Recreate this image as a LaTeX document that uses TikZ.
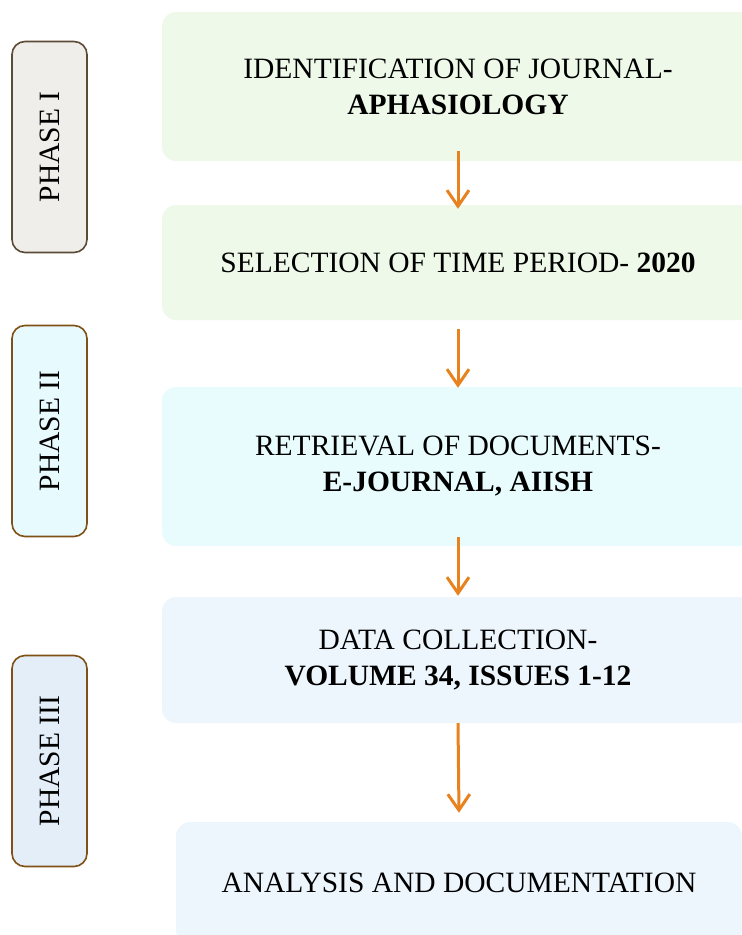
\documentclass[tikz,border=0pt]{standalone}
\usepackage{fontspec}
\setmainfont{Liberation Serif}
\usetikzlibrary{arrows.meta}
\definecolor{greenbox}{HTML}{EEF9EA}
\definecolor{cyanbox}{HTML}{E8FBFD}
\definecolor{bluebox}{HTML}{EEF6FD}
\definecolor{phaseone}{HTML}{EFEEEA}
\definecolor{phasetwo}{HTML}{E7FAFD}
\definecolor{phasethree}{HTML}{E4EEF8}
\definecolor{grayborder}{HTML}{5B4B37}
\definecolor{brownborder}{HTML}{7F5117}
\definecolor{arroworange}{HTML}{E8821E}
\tikzset{
  mainbox/.style={rounded corners=14pt, inner sep=0pt, minimum width=592pt, align=center,
    font=\fontsize{29.5}{36}\selectfont},
  phasebox/.style={rounded corners=13pt, draw, line width=1.6pt, rotate=90, inner sep=0pt,
    minimum width=211pt, minimum height=75pt, font=\fontsize{29.5}{36}\selectfont},
  flowarrow/.style={draw=arroworange, line width=3pt,
    -{Straight Barb[length=16pt,width=22pt]}}
}
\begin{document}
\begin{tikzpicture}[x=1pt,y=-1pt]
\useasboundingbox (0,0) rectangle (742,935);
\begin{scope}
\clip (0,0) rectangle (742,935);
\node[mainbox, fill=greenbox, minimum height=149pt] (b1) at (458,86.5)
  {IDENTIFICATION OF JOURNAL-\\\textbf{APHASIOLOGY}};
\node[mainbox, fill=greenbox, minimum height=115pt] (b2) at (458,262.5)
  {SELECTION OF TIME PERIOD- \textbf{2020}};
\node[mainbox, fill=cyanbox, minimum height=159pt] (b3) at (458,466.5)
  {RETRIEVAL OF DOCUMENTS-\\\textbf{E-JOURNAL, AIISH}};
\node[mainbox, fill=bluebox, minimum height=126pt] (b4) at (458,660)
  {DATA COLLECTION-\\\textbf{VOLUME 34, ISSUES 1-12}};
\node[mainbox, fill=bluebox, minimum height=122pt, minimum width=566pt] (b5) at (459,883)
  {ANALYSIS AND DOCUMENTATION};

\node[phasebox, draw=grayborder, fill=phaseone] (p1) at (49.5,147) {PHASE I};
\node[phasebox, draw=brownborder, fill=phasetwo] (p2) at (49.5,431) {PHASE II};
\node[phasebox, draw=brownborder, fill=phasethree] (p3) at (49.5,761) {PHASE III};

\coordinate (a1s) at ([yshift=10pt]b1.south);
\coordinate (a1e) at ([yshift=-4pt]b2.north);
\coordinate (a2s) at ([yshift=-9pt]b2.south);
\coordinate (a2e) at ([yshift=-1pt]b3.north);
\coordinate (a3s) at ([yshift=9pt]b3.south);
\coordinate (a3e) at ([yshift=1pt]b4.north);
\coordinate (a4s) at (b4.south);
\coordinate (a4e) at ([yshift=9pt]b5.north);
\draw[flowarrow] (a1s) -- (a1e);
\draw[flowarrow] (a2s) -- (a2e);
\draw[flowarrow] (a3s) -- (a3e);
\draw[flowarrow] (a4s) -- (a4e);
\end{scope}
\end{tikzpicture}
\end{document}
